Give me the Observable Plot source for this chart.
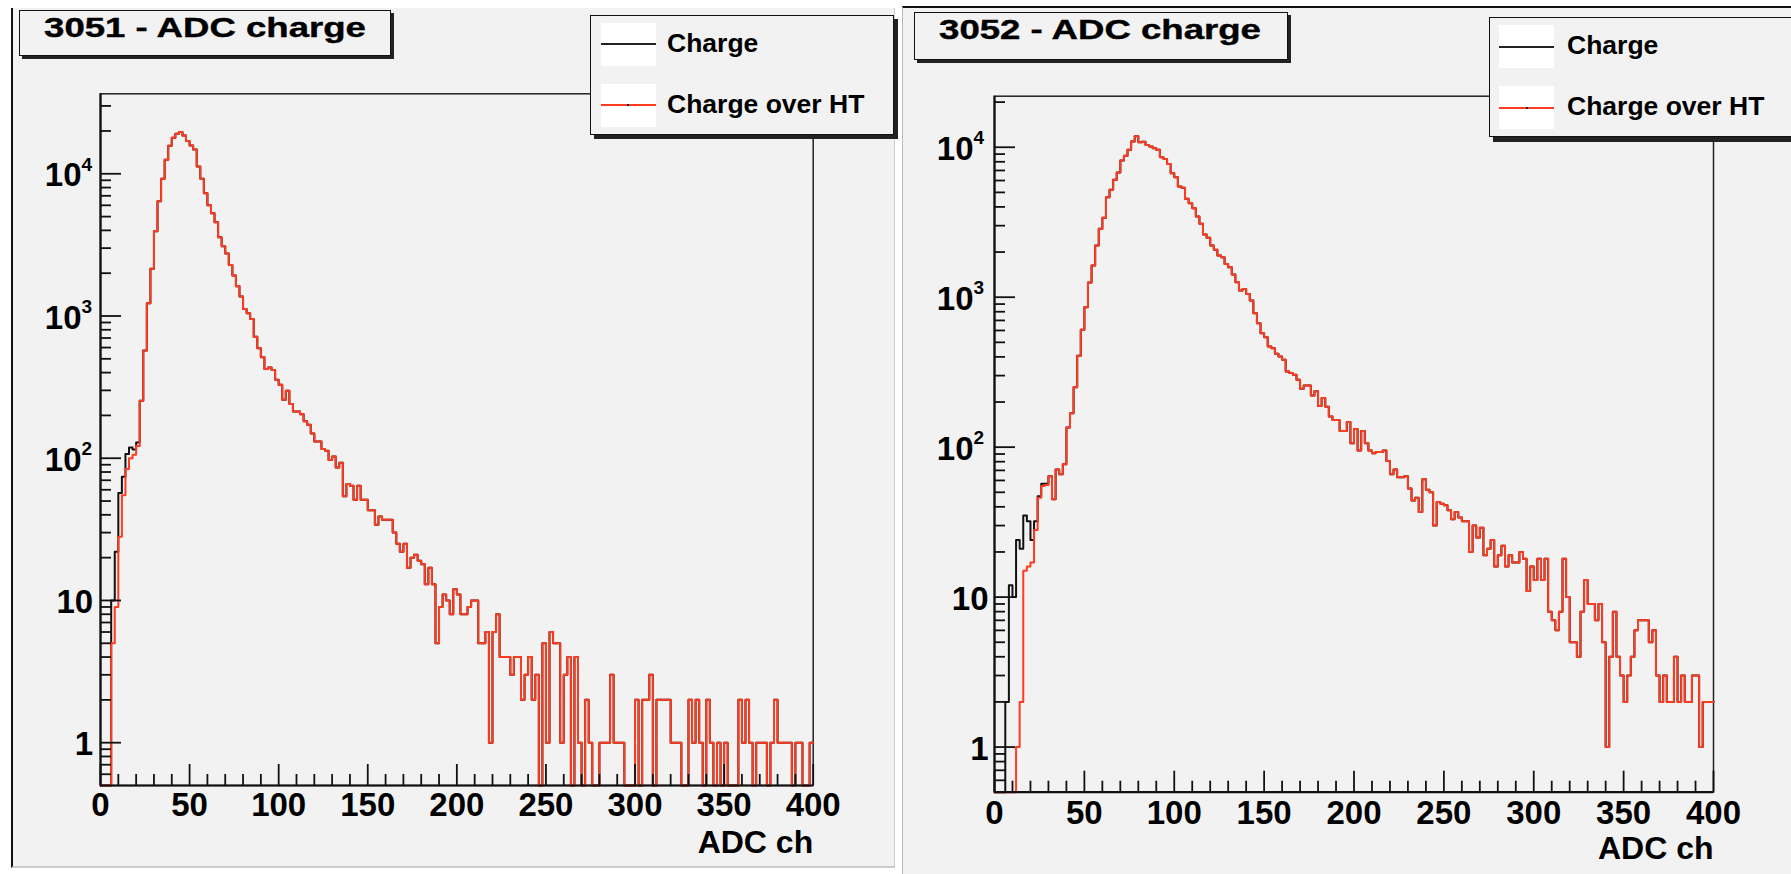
<!DOCTYPE html>
<html><head><meta charset="utf-8">
<script src="https://cdn.jsdelivr.net/npm/d3@7"></script>
<script src="https://cdn.jsdelivr.net/npm/@observablehq/plot@0.6"></script>
<style>
body{margin:0;background:#fff;width:1791px;height:874px;overflow:hidden;position:relative;font-family:"Liberation Sans",Arial,Helvetica,sans-serif;}
.cv{position:absolute;background:#f2f2f2;box-sizing:border-box;}
.box{position:absolute;border:1.5px solid #111;background:#f2f2f2;box-sizing:border-box;}
.txt{position:absolute;font-weight:bold;white-space:nowrap;line-height:1;color:#000;}
.ttl{font-size:27.5px;transform:translateX(-50%) scaleX(1.33);transform-origin:50% 50%;-webkit-text-stroke:0.4px #000;}
.lg{font-size:26.5px;}
.sw{position:absolute;background:#fff;}
.ln{position:absolute;height:2px;}
.plt{position:absolute;top:0;}
</style></head>
<body>
<div class="cv" style="left:11px;top:8px;width:884px;height:860px;border-left:2px solid #111;border-right:1px solid #ccc;border-bottom:2px solid #ccc;"></div>
<div class="cv" style="left:902px;top:6px;width:889px;height:868px;border-top:2px solid #111;border-left:1px solid #bbb;"></div>
<div id="p1" class="plt" style="left:0px;"></div>
<div id="p2" class="plt" style="left:900px;"></div>

<div class="box" style="left:19px;top:10px;width:372px;height:46px;box-shadow:3px 3px 0 #222;"></div>
<div class="txt ttl" style="left:205px;top:14px;">3051 - ADC charge</div>
<div class="box" style="left:914px;top:12px;width:374px;height:48px;box-shadow:3px 3px 0 #222;"></div>
<div class="txt ttl" style="left:1100px;top:16px;">3052 - ADC charge</div>

<div class="box" style="left:590px;top:15px;width:304px;height:120px;box-shadow:4px 4px 0 #222;"></div>
<div class="sw" style="left:601px;top:23px;width:55px;height:43px;"></div>
<div class="ln" style="left:601px;top:43px;width:55px;background:#222;"></div>
<div class="sw" style="left:601px;top:84px;width:55px;height:43px;"></div>
<div class="ln" style="left:601px;top:104px;width:55px;background:#ff3b20;"></div>
<div class="ln" style="left:627px;top:104px;width:2px;background:#111;"></div>
<div class="txt lg" style="left:667px;top:30px;">Charge</div>
<div class="txt lg" style="left:667px;top:91px;">Charge over HT</div>

<div class="box" style="left:1489px;top:17px;width:310px;height:120px;box-shadow:4px 5px 0 #222;"></div>
<div class="sw" style="left:1499px;top:25px;width:55px;height:43px;"></div>
<div class="ln" style="left:1499px;top:46px;width:55px;background:#222;"></div>
<div class="sw" style="left:1499px;top:86px;width:55px;height:43px;"></div>
<div class="ln" style="left:1499px;top:107px;width:55px;background:#ff3b20;"></div>
<div class="ln" style="left:1526px;top:107px;width:2px;background:#111;"></div>
<div class="txt lg" style="left:1567px;top:32px;">Charge</div>
<div class="txt lg" style="left:1567px;top:93px;">Charge over HT</div>

<script>
// ---- data: 200 bins of width 2 ADC ch, 0..400 ----
const binWidth = 2;
const xTicks = [0, 50, 100, 150, 200, 250, 300, 350, 400];
const yDecades = [1, 10, 100, 1000, 10000];
const yBase = ["1", "10", "10", "10", "10"];
const yExp = ["", "", "2", "3", "4"];
const legendLabels = ["Charge", "Charge over HT"];
const titles = ["3051 - ADC charge", "3052 - ADC charge"];

const overHT3051 = [
  0,0,0,5,9,28,55,84,100,106,
  122,254,571,1230,2145,3945,6410,9220,12540,15740,
  17900,19100,19630,18600,17000,15800,14830,11250,9220,7300,
  6010,5280,4560,3580,3093,2747,2287,1924,1618,1370,
  1122,1045,954,716,593,512,424,435,417,357,
  329,258,298,241,213,213,204,182,172,149,
  131,131,116,113,97,103,86,93,54,66,
  64,51,64,51,51,43,43,34,39,37,
  37,37,30,25,22,25,17,20,21,19,
  18,13,17,13,5,9,11,10,8,12,
  11,8,8,9,10,10,5,5,6,1,
  6,8,4,4,4,3,4,4,2,3,
  4,2,3,0,5,1,6,5,5,1,
  3,4,0,4,1,0,2,1,0,0,
  1,1,1,3,1,1,1,0,0,0,
  2,0,2,2,3,0,2,2,2,2,
  1,1,1,0,0,2,1,2,1,0,
  2,1,0,1,0,1,0,0,0,2,
  1,2,1,0,1,1,1,0,1,2,
  1,1,1,1,0,1,1,0,0,1
];
// "Charge" differs from "Charge over HT" only in the first bins
const chargeLow3051 = [0,0,0,10,22,57,74,107,119,115,129];

const overHT3052 = [
  0,0,0,0,0,0,1,2,15,16,
  17,28,46,55,56,64,45,71,66,77,
  135,168,251,407,606,858,1253,1626,2212,2856,
  3381,4642,5200,6067,6780,8150,8770,9610,10910,11840,
  10790,10900,10370,10120,9850,9610,8570,8360,7745,6710,
  6310,5470,5360,4530,4240,3925,3450,3085,2618,2488,
  2212,2070,1897,1849,1668,1585,1417,1259,1109,1134,
  1052,950,782,671,576,541,469,457,419,403,
  383,320,312,304,281,245,258,258,221,236,
  188,213,186,160,152,152,128,128,147,106,
  132,95,128,106,95,91,93,93,95,81,
  66,71,63,63,64,53,44,46,37,61,
  52,50,30,43,42,41,38,33,37,34,
  32,32,20,30,25,29,19,21,24,16,
  19,22,16,19,17,17,20,18,11,16,
  13,18,13,18,8,7,6,8,18,10,
  5,5,4,8,13,9,9,7,9,5,
  1,4,8,4,3,2,3,4,6,7,
  7,7,5,6,3,2,3,2,2,4,
  2,3,2,2,3,3,1,2,2,2
];
const chargeLow3052 = [0,0,0,2,12,10,24,21,35,32,24,32,47,57,57];

const charge3051 = chargeLow3051.concat(overHT3051.slice(chargeLow3051.length));
const charge3052 = chargeLow3052.concat(overHT3052.slice(chargeLow3052.length));

const RED = "#ff3b20", INK = "#111";

function panel(o) {
  const yMin = o.yDomain[0];
  const fw = o.width - o.ml - o.mr, fh = o.height - o.mt - o.mb;
  const steps = arr => {
    const p = arr.map((v, i) => ({u: i * binWidth, v: Math.max(v, yMin)}));
    p.push({u: 400, v: Math.max(arr[arr.length - 1], yMin)});
    return p;
  };
  const xMinor = d3.range(0, 401, 10).filter(d => d % 50 !== 0);
  const yMinor = [];
  for (let e = -1; e <= 4; e++) for (let m = 2; m <= 9; m++) {
    const v = m * Math.pow(10, e);
    if (v > yMin && v < o.yDomain[1]) yMinor.push(v);
  }
  const lab = yDecades.map((v, i) => ({v, base: yBase[i], exp: yExp[i]}));
  const txt = {fontFamily: '"Liberation Sans", Arial, sans-serif', fontWeight: "bold", fill: "#000"};
  return Plot.plot({
    width: o.width, height: o.height,
    marginLeft: o.ml, marginRight: o.mr, marginTop: o.mt, marginBottom: o.mb,
    x: {domain: [0, 400], axis: null},
    y: {type: "log", domain: o.yDomain, axis: null},
    style: {background: "transparent", overflow: "visible"},
    marks: [
      Plot.frame({stroke: "#222", strokeWidth: 1.5}),
      Plot.line(steps(o.charge), {x: "u", y: "v", curve: "step-after", stroke: INK, strokeWidth: 2}),
      Plot.line(steps(o.overHT), {x: "u", y: "v", curve: "step-after", stroke: RED, strokeWidth: 2}),
      Plot.ruleX([0], {stroke: INK, strokeWidth: 2.2}),
      Plot.ruleY([yMin], {stroke: INK, strokeWidth: 2.2}),
      Plot.tickX(xMinor, {x: d => d, insetTop: fh - 11, stroke: INK, strokeWidth: 1.8}),
      Plot.tickX(xTicks, {x: d => d, insetTop: fh - 21, stroke: INK, strokeWidth: 1.8}),
      Plot.tickY(yMinor, {y: d => d, insetRight: fw - 11, stroke: INK, strokeWidth: 1.8}),
      Plot.tickY(yDecades, {y: d => d, insetRight: fw - 21, stroke: INK, strokeWidth: 1.8}),
      Plot.text(xTicks, {x: d => d, y: yMin, text: d => String(d), dy: o.xdy, lineAnchor: "middle", fontSize: 33, ...txt}),
      Plot.text(["ADC ch"], {frameAnchor: "bottom-right", text: d => d, textAnchor: "end", lineAnchor: "middle", dy: o.tdy, fontSize: 32, ...txt}),
      Plot.text(lab.filter(d => !d.exp), {y: "v", text: "base", frameAnchor: "left", textAnchor: "end", lineAnchor: "middle", dx: o.dxPlain, dy: 2, fontSize: 33, ...txt}),
      Plot.text(lab.filter(d => d.exp), {y: "v", text: "base", frameAnchor: "left", textAnchor: "end", lineAnchor: "middle", dx: o.dxBase, dy: 2, fontSize: 33, ...txt}),
      Plot.text(lab.filter(d => d.exp), {y: "v", text: "exp", frameAnchor: "left", textAnchor: "start", lineAnchor: "middle", dx: o.dxBase, dy: -9, fontSize: 19, ...txt})
    ]
  });
}

document.getElementById("p1").append(panel({
  width: 895, height: 874, ml: 100, mr: 82.3, mt: 93.3, mb: 89,
  yDomain: [0.5, 36500], charge: charge3051, overHT: overHT3051,
  xdy: 19.5, tdy: 57, dxPlain: -7.4, dxBase: -19
}));
document.getElementById("p2").append(panel({
  width: 891, height: 874, ml: 94, mr: 78, mt: 95.7, mb: 82.3,
  yDomain: [0.5, 21900], charge: charge3052, overHT: overHT3052,
  xdy: 21.5, tdy: 56.5, dxPlain: -6, dxBase: -21
}));
</script>
</body></html>
